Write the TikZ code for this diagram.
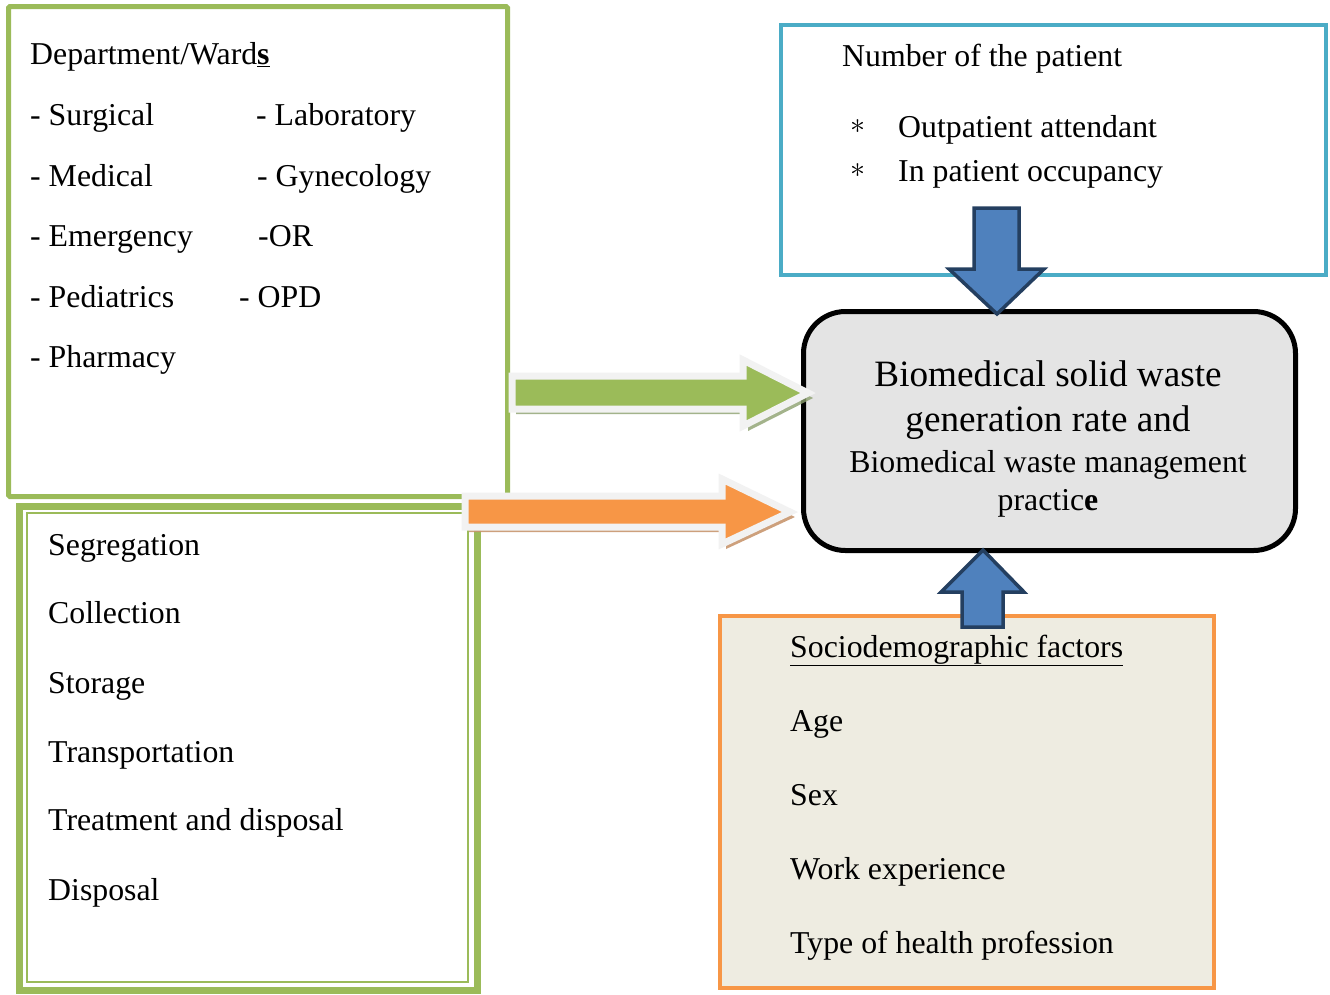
\documentclass[tikz,border=0pt]{standalone}
\usepackage{fontspec}
\setmainfont{Liberation Serif}
\definecolor{gr}{HTML}{9BBB59}
\definecolor{bl}{HTML}{4BACC6}
\definecolor{org}{HTML}{F79646}
\definecolor{ofill}{HTML}{EEECE1}
\definecolor{cfill}{HTML}{E4E4E4}
\definecolor{abl}{HTML}{4F81BD}
\definecolor{adk}{HTML}{243F60}
\definecolor{aout}{HTML}{F2F2F2}
\begin{document}
\begin{tikzpicture}[x=1pt,y=-1pt,
  txt/.style={anchor=base west,inner sep=0pt,font=\fontsize{31.8}{38}\selectfont},
  ctxt/.style={anchor=base,inner sep=0pt,font=\fontsize{37.2}{44}\selectfont},
  cstxt/.style={anchor=base,inner sep=0pt,font=\fontsize{31.8}{38}\selectfont},
  star/.style={anchor=center,inner sep=0pt},
  box/.style={inner sep=0pt,outer sep=0pt,anchor=north west},
  bluearrow/.style={fill=abl,draw=adk,line width=3.5pt,line join=miter},
  blockarrow/.style={draw=aout,line width=7pt,line join=miter},
]
\useasboundingbox (0,0) rectangle (1330,994);
% boxes (positions and sizes on the centre of the line)
\node[box,draw=gr,line width=5pt,minimum width=499,minimum height=490,rounded corners=1.5pt] (wards) at (8.5,6.5) {};
\node[box,draw=gr,line width=7pt,minimum width=457.5,minimum height=484] (mgmt) at (19.5,506) {};
\node[box,draw=gr,line width=2pt,minimum width=441,minimum height=469] (mgmtin) at (27,513) {};
\node[box,draw=bl,line width=4pt,minimum width=545,minimum height=250] (patient) at (781,25) {};
\node[box,draw=org,fill=ofill,line width=4pt,minimum width=494,minimum height=372] (socio) at (720,616) {};
\node[box,draw=black,fill=cfill,line width=5pt,minimum width=492,minimum height=239,rounded corners=42pt] (center) at (803.5,311.5) {};
% block arrows (shadows)
\fill[color={rgb,255:red,140;green,160;blue,110},opacity=0.8] (516,381) -- (748,381) -- (748,365) -- (813,398) -- (748,431) -- (748,414) -- (516,414) -- cycle;
\fill[color={rgb,255:red,200;green,150;blue,110},opacity=0.9] (469,501) -- (726,501) -- (726,484) -- (795,517) -- (726,549) -- (726,532) -- (469,532) -- cycle;
% green arrow
\draw[blockarrow,fill=gr] (512,376) -- (743,376) -- (743,360) -- (808,393) -- (743,426) -- (743,409) -- (512,409) -- cycle;
% orange arrow
\draw[blockarrow,fill=org] (465,496) -- (722,496) -- (722,479) -- (790,512) -- (722,544) -- (722,527) -- (465,527) -- cycle;
% blue arrows
\draw[bluearrow] (974,208) -- (1019,208) -- (1019,269) -- (1044,269) -- (997,314) -- (949,269) -- (974,269) -- cycle;
\draw[bluearrow] (962,627) -- (1003,627) -- (1003,592) -- (1024,592) -- (983,550) -- (941,592) -- (962,592) -- cycle;
% wards text
\node[txt] (t1) at (30,64) {Department/Ward\underline{\textbf{s}}};
\node[txt] (t2) at (30,125) {- Surgical};
\node[txt] (t3) at (30,186) {- Medical};
\node[txt] (t4) at (30,246) {- Emergency};
\node[txt] (t5) at (30,307) {- Pediatrics};
\node[txt] (t6) at (30,367) {- Pharmacy};
\node[txt] (t7) at (256,125) {- Laboratory};
\node[txt] (t8) at (257,186) {- Gynecology};
\node[txt] (t9) at (258,246) {-OR};
\node[txt] (t10) at (239,307) {- OPD};
% management
\node[txt] (m1) at (48,555) {Segregation};
\node[txt] (m2) at (48,623) {Collection};
\node[txt] (m3) at (48,693) {Storage};
\node[txt] (m4) at (48,762) {Transportation};
\node[txt] (m5) at (48,830) {Treatment and disposal};
\node[txt] (m6) at (48,900) {Disposal};
% patient
\node[txt] (p1) at (842,66) {Number of the patient};
\node[star] (p2) at (858,127) {\scalebox{3}{$\ast$}};
\node[txt] (p3) at (898,137) {Outpatient attendant};
\node[star] (p4) at (858,171) {\scalebox{3}{$\ast$}};
\node[txt] (p5) at (898,181) {In patient occupancy};
% center
\node[ctxt] (c1) at (1048,386) {Biomedical solid waste};
\node[ctxt] (c2) at (1048,431) {generation rate and};
\node[cstxt] (c3) at (1048,472) {Biomedical waste management};
\node[cstxt] (c4) at (1048,510) {practic\textbf{e}};
% socio
\node[txt] (s1) at (790,657) {\underline{Sociodemographic factors}};
\node[txt] (s2) at (790,731) {Age};
\node[txt] (s3) at (790,805) {Sex};
\node[txt] (s4) at (790,879) {Work experience};
\node[txt] (s5) at (790,953) {Type of health profession};
\end{tikzpicture}
\end{document}
